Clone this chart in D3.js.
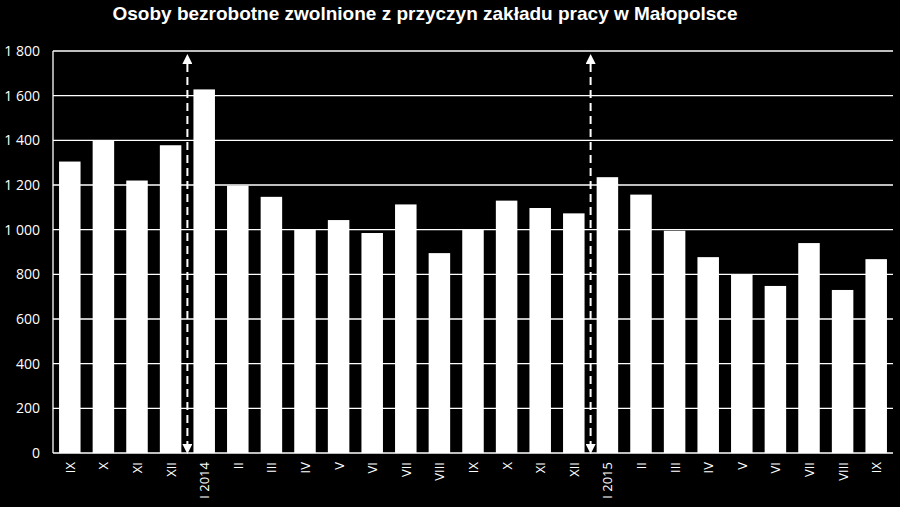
<!DOCTYPE html>
<html><head><meta charset="utf-8">
<script src="https://cdn.jsdelivr.net/npm/d3@7"></script>
<style>body{margin:0;background:#000}</style></head>
<body><svg width="900" height="507"></svg>
<script>
const categories=["IX","X","XI","XII","I 2014","II","III","IV","V","VI","VII","VIII","IX","X","XI","XII","I 2015","II","III","IV","V","VI","VII","VIII","IX"];
const values=[1305,1400,1220,1378,1628,1197,1147,1000,1043,985,1113,895,1000,1130,1097,1073,1235,1157,995,877,800,748,940,730,868];
const yTicks=[0,200,400,600,800,1000,1200,1400,1600,1800];
const arrowAfter=["XII","XII"]; const arrowIdx=[3,15];
const title="Osoby bezrobotne zwolnione z przyczyn zakładu pracy w Małopolsce";
const svg=d3.select("svg");
svg.append("rect").attr("width",900).attr("height",507).attr("fill","#000");
const L=53,R=893,T=51,B=453;
const x=d3.scaleBand().domain(d3.range(categories.length)).range([L,R]).paddingInner(0.36).paddingOuter(0.18);
const y=d3.scaleLinear().domain([0,1800]).range([B,T]);
const font="'Open Sans',sans-serif";
svg.append("g").selectAll("line").data(yTicks).join("line")
 .attr("x1",L).attr("x2",R).attr("y1",d=>y(d)).attr("y2",d=>y(d)).attr("stroke","#fff").attr("stroke-width",1.3);
svg.append("line").attr("x1",L).attr("x2",L).attr("y1",T).attr("y2",B).attr("stroke","#fff").attr("stroke-width",1.3);
svg.append("g").selectAll("text").data(yTicks).join("text")
 .attr("x",40).attr("y",d=>y(d)+5).attr("text-anchor","end").attr("fill","#fff")
 .attr("font-family",font).attr("font-size",14).text(d=>d3.format(",")(d).replace(","," "));
svg.append("g").selectAll("rect").data(values).join("rect")
 .attr("x",(d,i)=>x(i)).attr("width",x.bandwidth()).attr("y",d=>y(d)).attr("height",d=>B-y(d)).attr("fill","#fff");
svg.append("g").selectAll("text").data(categories).join("text")
 .attr("transform",(d,i)=>`translate(${x(i)+x.bandwidth()/2+5},${B+9}) rotate(-90)`)
 .attr("text-anchor","end").attr("fill","#fff").attr("font-family",font).attr("font-size",13).text(d=>d);
const defs=svg.append("defs");
defs.append("marker").attr("id","ah").attr("viewBox","0 0 10 10").attr("refX",5).attr("refY",5)
 .attr("markerWidth",5).attr("markerHeight",5).attr("orient","auto-start-reverse").attr("markerUnits","strokeWidth")
 .append("path").attr("d","M0,0L10,5L0,10z").attr("fill","#fff");
arrowIdx.forEach(i=>{
 const ax=(x(i)+x.bandwidth()+x(i+1))/2;
 svg.append("line").attr("x1",ax).attr("x2",ax).attr("y1",B-4).attr("y2",T+8)
  .attr("stroke","#fff").attr("stroke-width",2).attr("stroke-dasharray","8,5")
  .attr("marker-start","url(#ah)").attr("marker-end","url(#ah)");
});
svg.append("text").attr("x",425).attr("y",20).attr("text-anchor","middle").attr("fill","#fff")
 .attr("font-family","'Liberation Sans',Arial,sans-serif").attr("font-weight","bold").attr("font-size",19).text(title);
</script></body></html>
